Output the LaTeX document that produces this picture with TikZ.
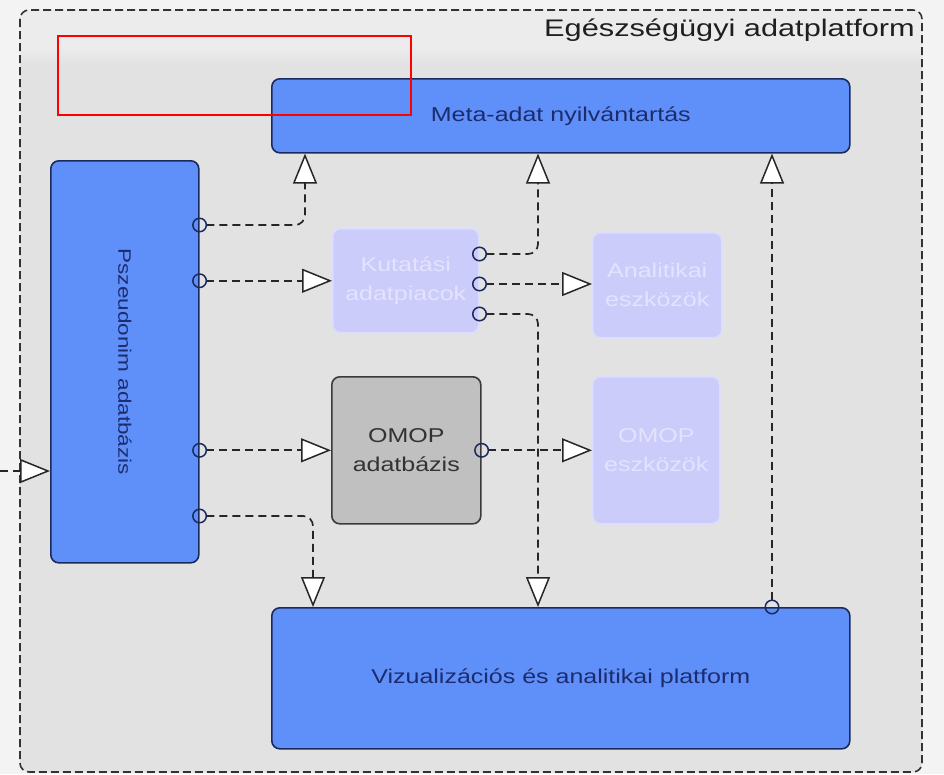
\documentclass[tikz,border=0pt]{standalone}
\usepackage{fontspec}
\setmainfont{Liberation Sans}
\newfontfamily\widesans[FakeStretch=1.25]{Liberation Sans}
\newfontfamily\titlesans[FakeStretch=1.28]{Liberation Sans}
\usetikzlibrary{arrows.meta,calc}

\definecolor{boxblue}{HTML}{5F8FF8}
\definecolor{boxline}{HTML}{1B2A5E}
\definecolor{boxtext}{HTML}{1C2C6E}
\definecolor{paleblue}{HTML}{CCCCFB}
\definecolor{paleline}{HTML}{DCDCFF}
\definecolor{paletext}{HTML}{E3E3FF}
\definecolor{omopgray}{HTML}{C0C0C0}
\definecolor{omopline}{HTML}{3A3A3A}
\definecolor{framebg}{HTML}{E2E2E2}
\definecolor{headbg}{HTML}{ECECEC}
\definecolor{outerbg}{HTML}{F3F3F3}

\tikzset{
  boxfont/.style={font=\widesans\fontsize{20}{29}\selectfont},
  block/.style={draw=boxline, fill=boxblue, line width=1.6pt, rounded corners=8pt,
    inner sep=0pt, text=boxtext, align=center, boxfont},
  ghost/.style={draw=paleline, fill=paleblue, line width=1.5pt, rounded corners=8pt,
    inner sep=0pt, text=paletext, align=center, boxfont},
  graybox/.style={draw=omopline, fill=omopgray, line width=1.6pt, rounded corners=8pt,
    inner sep=0pt, text=black!80, align=center, boxfont},
  flow/.style={draw=black!85, line width=1.7pt, dash pattern=on 8pt off 5pt,
    rounded corners=10pt,
    -{Triangle[length=30pt, width=24pt, fill=white, line width=1.5pt]}},
  conn/.style={flow,
    {Circle[open, length=15pt, width=15pt, color=boxline, line width=1.5pt]}-{Triangle[length=30pt, width=24pt, fill=white, line width=1.5pt]},
    shorten <=-7.5pt},
  frame/.style={draw=black!80, line width=1.6pt, dash pattern=on 8pt off 4pt, rounded corners=9pt}
}

\begin{document}
\begin{tikzpicture}[x=1pt, y=-1pt]
  \useasboundingbox (0,0) rectangle (944,774);
  \fill[outerbg] (0,0) rectangle (944,774);

  % platform container with its lighter header strip
  \fill[framebg, rounded corners=9pt] (20,10) rectangle (922,772);
  \begin{scope}
    \clip[rounded corners=9pt] (20,10) rectangle (922,772);
    \fill[headbg] (20,10) rectangle (922,48);
    \shade[top color=headbg, bottom color=framebg] (20,48) rectangle (922,64);
  \end{scope}
  \draw[frame] (20,10) rectangle (922,772);
  \node[anchor=east, text=black!88, font=\titlesans\fontsize{24}{28}\selectfont, inner sep=0pt]
    (title) at (915,30) {Egészségügyi adatplatform};

  % components
  \node[block, anchor=north west, minimum width=578pt, minimum height=74pt]
    (meta) at (271,78) {Meta-adat nyilvántartás};
  \node[block, anchor=north west, minimum width=148pt, minimum height=402pt]
    (psz) at (50,160) {};
  \node[rotate=-90, text=boxtext, font=\widesans\fontsize{18}{24}\selectfont]
    (pszlabel) at (psz.center) {Pszeudonim adatbázis};
  \node[ghost, anchor=north west, minimum width=146pt, minimum height=104pt]
    (kut) at (332,228) {Kutatási\\adatpiacok};
  \node[ghost, anchor=north west, minimum width=129pt, minimum height=105pt]
    (ana) at (592,232) {Analitikai\\eszközök};
  \node[graybox, anchor=north west, minimum width=149pt, minimum height=147pt]
    (omop) at (331,376) {OMOP\\adatbázis};
  \node[ghost, anchor=north west, minimum width=127pt, minimum height=147pt]
    (omt) at (592,376) {OMOP\\eszközök};
  \node[block, anchor=north west, minimum width=578pt, minimum height=141pt]
    (viz) at (271,607) {Vizualizációs és analitikai platform};

  % data flows
  \coordinate (ext) at (0,471);
  \draw[flow] (ext) -- (ext -| psz.west);

  \draw[conn] ([yshift=-65pt]psz.north east) -| ([xshift=34pt]meta.south west);
  \draw[conn] (kut.west -| psz.east) -- (kut.west);
  \draw[conn] (omop.west -| psz.east) -- (omop.west);
  \draw[conn] ([yshift=-356pt]psz.north east) -| ([xshift=42pt]viz.north west);

  \draw[conn] ([yshift=-26pt]kut.north east) -| ([xshift=267pt]meta.south west);
  \draw[conn] ([yshift=-56pt]kut.north east) coordinate (k2) -- (k2 -| ana.west);
  \draw[conn] ([yshift=-86pt]kut.north east) -| ([xshift=267pt]viz.north west);

  \draw[conn] (omop.east) -- (omop.east -| omt.west);
  \draw[conn] ([xshift=501pt]viz.north west) -- ([xshift=501pt]meta.south west);

  % highlight marker
  \draw[red, line width=2pt] (58,36) rectangle (411,115);
\end{tikzpicture}
\end{document}
